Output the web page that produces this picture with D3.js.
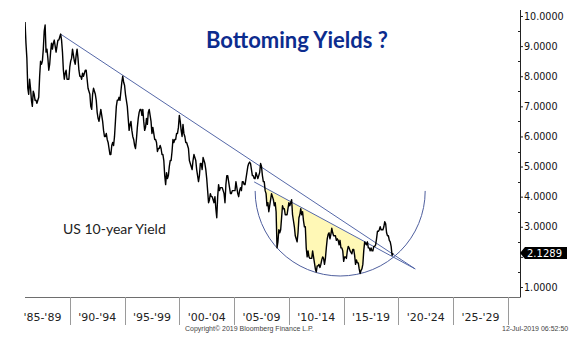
<!DOCTYPE html>
<html>
<head>
<meta charset="utf-8">
<script src="https://cdn.jsdelivr.net/npm/d3@7"></script>
<style>
	body { margin: 0; background: #fff; }
	svg { display: block; }
</style>
</head>
<body>
<svg id="chart"></svg>
<script>
// monthly US 10-year yield, first value is Dec 1985
const firstMonth = 1985 + 11 / 12;
const yields = [
	9.8,
	9.1, 8.6, 7.6, 7.4, 7.9, 7.6, 7.2, 7.0, 7.5, 7.4, 7.2, 7.2,
	7.1, 7.2, 7.3, 8.0, 8.5, 8.4, 8.5, 8.9, 9.5, 9.7, 8.8, 8.9,
	8.6, 8.2, 8.4, 8.8, 9.1, 8.9, 9.1, 9.2, 9.0, 8.8, 9.0, 9.2,
	9.2, 9.3, 9.4, 9.2, 8.8, 8.2, 7.9, 8.1, 8.2, 7.9, 7.9, 7.9,
	8.3, 8.5, 8.6, 8.9, 8.7, 8.5, 8.4, 8.7, 8.9, 8.6, 8.2, 8.0,
	8.0, 7.9, 8.1, 8.0, 8.1, 8.2, 8.2, 7.9, 7.6, 7.5, 7.4, 7.0,
	6.9, 7.4, 7.6, 7.5, 7.4, 7.2, 6.8, 6.6, 6.5, 6.7, 6.9, 6.7,
	6.5, 6.2, 6.0, 6.0, 6.1, 5.9, 5.8, 5.6, 5.4, 5.4, 5.7, 5.8,
	5.7, 6.0, 6.5, 7.0, 7.2, 7.2, 7.3, 7.2, 7.5, 7.8, 8.0, 7.8,
	7.7, 7.4, 7.2, 7.0, 6.6, 6.2, 6.4, 6.5, 6.2, 6.0, 5.9, 5.7,
	5.6, 5.9, 6.3, 6.6, 6.8, 6.9, 6.9, 6.7, 6.9, 6.5, 6.2, 6.3,
	6.6, 6.4, 6.8, 6.9, 6.7, 6.5, 6.1, 6.3, 6.1, 5.9, 5.9, 5.8,
	5.5, 5.6, 5.6, 5.7, 5.6, 5.4, 5.4, 5.2, 4.7, 4.4, 4.8, 4.6,
	4.7, 5.0, 5.2, 5.2, 5.5, 5.9, 5.8, 5.9, 5.9, 6.1, 6.1, 6.3,
	6.7, 6.5, 6.2, 6.0, 6.4, 6.1, 6.0, 5.8, 5.8, 5.7, 5.6, 5.2,
	5.1, 5.0, 4.9, 5.2, 5.4, 5.3, 5.2, 4.9, 4.7, 4.5, 4.7, 5.1,
	5.1, 4.9, 5.3, 5.2, 5.1, 4.9, 4.6, 4.2, 3.8, 3.9, 4.1, 4.0,
	4.0, 3.9, 3.8, 4.0, 3.6, 3.3, 4.0, 4.4, 4.2, 4.3, 4.3, 4.3,
	4.2, 4.1, 3.8, 4.4, 4.7, 4.7, 4.5, 4.3, 4.1, 4.1, 4.2, 4.2,
	4.2, 4.2, 4.5, 4.3, 4.1, 4.0, 4.2, 4.3, 4.2, 4.5, 4.5, 4.4,
	4.4, 4.6, 4.8, 5.0, 5.1, 5.15, 5.1, 4.9, 4.7, 4.7, 4.6, 4.6,
	4.8, 4.7, 4.6, 4.7, 4.8, 5.1, 5.0, 4.7, 4.5, 4.5, 4.2, 4.1,
	3.7, 3.8, 3.5, 3.7, 3.9, 4.1, 4.0, 3.9, 3.7, 3.8, 3.5, 2.3,
	2.5, 2.9, 2.8, 2.9, 3.3, 3.7, 3.6, 3.6, 3.4, 3.4, 3.4, 3.6,
	3.8, 3.7, 3.8, 3.9, 3.4, 3.2, 3.0, 2.7, 2.6, 2.5, 2.8, 3.3,
	3.4, 3.6, 3.4, 3.5, 3.2, 3.0, 3.0, 2.3, 2.0, 2.2, 2.0, 1.95,
	1.95, 1.95, 2.2, 2.0, 1.8, 1.6, 1.5, 1.7, 1.7, 1.75, 1.65, 1.75,
	1.9, 2.0, 1.95, 1.75, 1.95, 2.3, 2.6, 2.75, 2.8, 2.6, 2.75, 2.95,
	2.8, 2.7, 2.7, 2.7, 2.55, 2.6, 2.55, 2.4, 2.55, 2.3, 2.3, 2.2,
	1.85, 2.0, 2.0, 1.95, 2.2, 2.35, 2.3, 2.2, 2.15, 2.1, 2.25, 2.25,
	2.05, 1.75, 1.9, 1.8, 1.8, 1.6, 1.45, 1.55, 1.6, 1.75, 2.2, 2.5,
	2.45, 2.4, 2.5, 2.3, 2.3, 2.2, 2.3, 2.2, 2.2, 2.35, 2.35, 2.4,
	2.6, 2.85, 2.85, 2.9, 3.0, 2.9, 2.9, 2.9, 3.0, 3.17, 3.1, 2.8,
	2.7, 2.7, 2.55, 2.5, 2.35, 2.05, 2.1289
];

// hand drawn annotations, [year, yield]
const upperTrend = [[1989.2, 9.39], [2021.53, 1.60]];
const lowerTrend = [[2006.83, 4.49], [2021.53, 1.60]];
const shadeYears = [2007.55, 2016.95];
const arcCentre = [2014.68, 4.19];
const arcRadiusYears = 7.76;

const periodStarts = [1985, 1990, 1995, 2000, 2005, 2010, 2015, 2020, 2025];
const periodLabels = ["'85-'89", "'90-'94", "'95-'99", "'00-'04", "'05-'09", "'10-'14", "'15-'19", "'20-'24", "'25-'29"];
const yTicks = [1, 2, 3, 4, 5, 6, 7, 8, 9, 10];
const yMinorTicks = [1.5, 2.5, 3.5, 4.5, 5.5, 6.5, 7.5, 8.5, 9.5];

const width = 579;
const height = 352;
const plotLeft = 25;
const plotRight = 520;
const plotBottom = 297;

const svg = d3.select('#chart')
	.attr('width', width)
	.attr('height', height);

const x = d3.scaleLinear().domain([1985, 2030]).range([15, 508]);
const y = d3.scaleLinear().domain([1, 10]).range([287, 16]);

const series = yields.map((v, i) => ({ t: firstMonth + i / 12, v: v }));
const last = yields[yields.length - 1];

svg.append('clipPath').attr('id', 'plot-clip')
	.append('rect')
	.attr('x', plotLeft).attr('y', 0)
	.attr('width', plotRight - plotLeft).attr('height', plotBottom);

const plot = svg.append('g').attr('clip-path', 'url(#plot-clip)');

// yellow area under the lower trendline
const lowerAt = t => {
	const [a, b] = lowerTrend;
	return a[1] + (t - a[0]) * (b[1] - a[1]) / (b[0] - a[0]);
};
const shaded = series.filter(d => d.t >= shadeYears[0] && d.t <= shadeYears[1]);
plot.append('path').datum(shaded)
	.attr('fill', '#fff8b6')
	.attr('stroke', 'none')
	.attr('d', d3.area()
		.x(d => x(d.t))
		.y0(d => y(lowerAt(d.t)))
		.y1(d => y(Math.min(d.v, lowerAt(d.t)))));

// semicircle
const arcR = x(arcCentre[0] + arcRadiusYears) - x(arcCentre[0]);
const arcPath = d3.path();
arcPath.arc(x(arcCentre[0]), y(arcCentre[1]), arcR, Math.PI, 0, true);
plot.append('path')
	.attr('d', arcPath.toString())
	.attr('fill', 'none')
	.attr('stroke', '#4f5f9e')
	.attr('stroke-width', 1);

const trendLine = d3.line().x(d => x(d[0])).y(d => y(d[1]));
[upperTrend, lowerTrend].forEach(tr => {
	plot.append('path').datum(tr)
		.attr('fill', 'none')
		.attr('stroke', '#5568a8')
		.attr('stroke-width', 1)
		.attr('d', trendLine);
});

plot.append('path').datum(series)
	.attr('fill', 'none')
	.attr('stroke', '#000')
	.attr('stroke-width', 1.4)
	.attr('stroke-linejoin', 'round')
	.attr('d', d3.line().x(d => x(d.t)).y(d => y(d.v)));

// bottom axis with period boxes
svg.append('line')
	.attr('stroke', '#6e6e6e')
	.attr('x1', plotLeft).attr('y1', plotBottom + 0.5)
	.attr('x2', plotRight).attr('y2', plotBottom + 0.5);

svg.append('g').selectAll('line').data(periodStarts.slice(1).concat([2030]))
	.join('line')
	.attr('stroke', '#9a9a9a')
	.attr('x1', d => Math.round(x(d)) + 0.5).attr('x2', d => Math.round(x(d)) + 0.5)
	.attr('y1', plotBottom).attr('y2', 325);

svg.append('g').selectAll('text').data(periodStarts)
	.join('text')
	.attr('x', d => x(d + 2.5))
	.attr('y', 321)
	.attr('text-anchor', 'middle')
	.attr('font-family', 'DejaVu Sans, Verdana, sans-serif')
	.attr('font-size', 11)
	.attr('fill', '#222')
	.text((d, i) => periodLabels[i]);

// right axis; the 2.0000 label sits under the last value tag
const yAxis = svg.append('g')
	.attr('transform', `translate(${plotRight},0)`)
	.call(d3.axisRight(y).tickValues(yTicks).tickSize(3).tickPadding(1)
		.tickFormat(d => Math.abs(d - last) < 0.5 ? '' : d3.format('.4f')(d)));
yAxis.select('.domain').attr('d', `M0.5,10V${plotBottom + 0.5}`).attr('stroke', '#222');
yAxis.selectAll('.tick line').attr('stroke', '#222');
yAxis.selectAll('.tick text')
	.attr('font-family', 'DejaVu Sans, Verdana, sans-serif')
	.attr('font-size', 9.6)
	.attr('fill', '#111');

svg.append('g').selectAll('line').data(yMinorTicks)
	.join('line')
	.attr('stroke', '#222')
	.attr('x1', plotRight - 2).attr('x2', plotRight)
	.attr('y1', d => Math.round(y(d)) + 0.5).attr('y2', d => Math.round(y(d)) + 0.5);

// last value tag
const ly = y(last);
svg.append('path')
	.attr('d', `M${plotRight},${ly} L${plotRight + 5},${ly - 6} H${plotRight + 47} V${ly + 6} H${plotRight + 5} Z`)
	.attr('fill', '#000');
svg.append('text')
	.attr('x', plotRight + 7).attr('y', ly + 4)
	.attr('font-family', 'DejaVu Sans, Verdana, sans-serif')
	.attr('font-size', 10)
	.attr('fill', '#fff')
	.text(d3.format('.4f')(last));

// titles and notes
svg.append('text')
	.attr('x', 297).attr('y', 48)
	.attr('text-anchor', 'middle')
	.attr('font-family', 'Lato, sans-serif')
	.attr('font-weight', 'bold')
	.attr('font-size', 22)
	.attr('fill', '#0c2c8e')
	.text('Bottoming Yields ?');

svg.append('text')
	.attr('x', 63).attr('y', 234)
	.attr('font-family', 'Lato, sans-serif')
	.attr('font-size', 14)
	.attr('fill', '#222')
	.text('US 10-year Yield');

svg.append('text')
	.attr('x', 185).attr('y', 331)
	.attr('font-family', 'Liberation Sans, sans-serif')
	.attr('font-size', 7)
	.attr('fill', '#444')
	.text('Copyright\u00a9 2019 Bloomberg Finance L.P.');

svg.append('text')
	.attr('x', 502).attr('y', 331)
	.attr('font-family', 'Liberation Sans, sans-serif')
	.attr('font-size', 7)
	.attr('fill', '#444')
	.text('12-Jul-2019 06:52:50');
</script>
</body>
</html>
